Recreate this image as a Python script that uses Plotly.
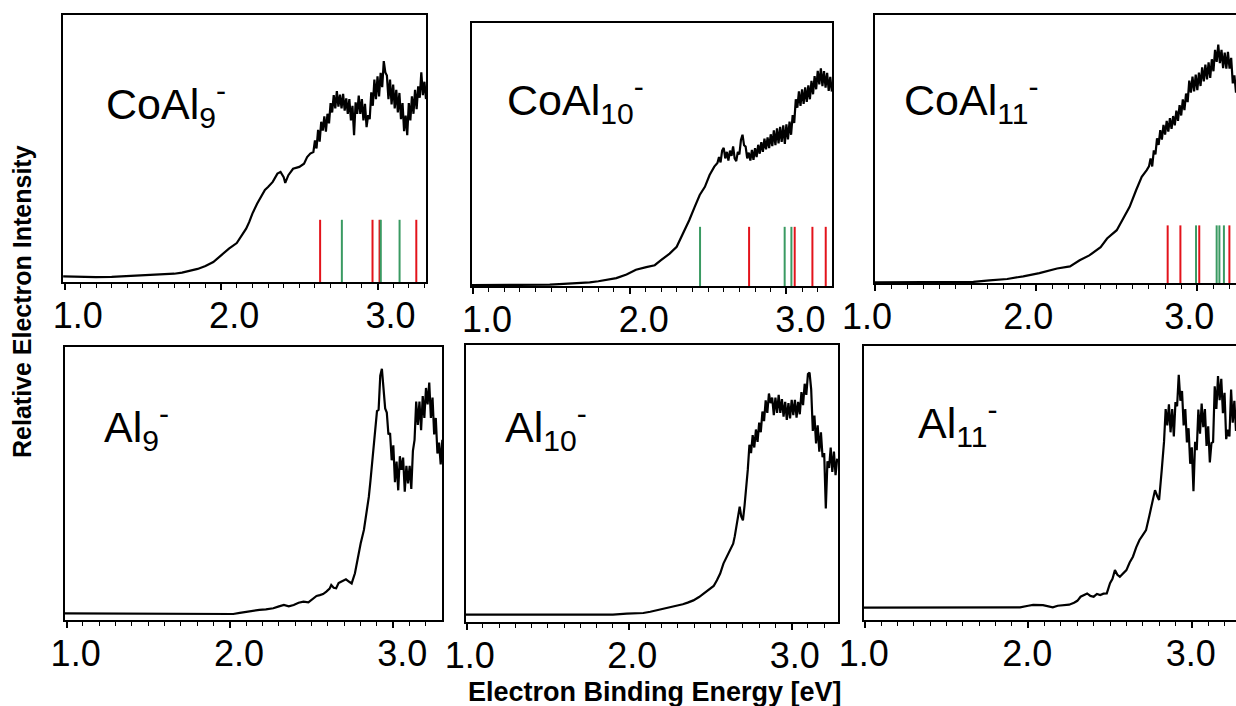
import plotly.graph_objects as go

W, H = 1236, 706
FONT = "Liberation Sans, Arial, Helvetica, sans-serif"

# ---------------- data ----------------
TICK_VALUES = [1.0, 2.0, 3.0]
TICK_LABELS = ["1.0", "2.0", "3.0"]

# CoAl9- spectrum (energy in eV, relative intensity)
coal9_E = [0.99, 1.05, 1.1, 1.2, 1.3, 1.4, 1.5, 1.6, 1.7, 1.75, 1.8, 1.85, 1.9, 1.95, 2.0, 2.05, 2.1,
           2.13, 2.16, 2.18, 2.2, 2.23, 2.26, 2.28, 2.3, 2.33, 2.36, 2.38, 2.4, 2.41, 2.43, 2.46, 2.5,
           2.53, 2.55, 2.57, 2.59,
           2.60, 2.61, 2.62, 2.63, 2.64, 2.65, 2.66, 2.67, 2.68, 2.69,
           2.70, 2.71, 2.72, 2.73, 2.74, 2.75, 2.76, 2.77, 2.78, 2.79,
           2.80, 2.81, 2.82, 2.83, 2.84, 2.85, 2.86, 2.87, 2.88, 2.89,
           2.90, 2.91, 2.92, 2.93, 2.94, 2.95, 2.96, 2.97, 2.98, 2.99,
           3.00, 3.01, 3.02, 3.03, 3.04, 3.05, 3.06, 3.07, 3.08, 3.09,
           3.10, 3.11, 3.12, 3.13, 3.14, 3.15, 3.16, 3.17, 3.18, 3.19,
           3.20, 3.21, 3.22, 3.23, 3.24, 3.25, 3.26, 3.27, 3.28, 3.29,
           3.30, 3.31]
coal9_I = [2.1, 2.0, 1.9, 1.8, 1.9, 2.2, 2.4, 2.6, 3.1, 3.5, 4.1, 4.9, 6.0, 7.5, 10.0, 12.5, 14.6,
           17.5, 20.0, 22.5, 25.6, 29.3, 32.5, 34.5, 35.6, 37.5, 40.6, 41.2, 39.3, 37.1, 40.0, 42.4, 43.1,
           44.3, 46.8, 48.1, 48.7,
           53, 50, 57, 52.6, 60, 56.7, 62, 56.3, 63, 59.4,
           67, 63.5, 70, 65, 71.5, 65.7, 70.2, 65, 70.5, 64.2,
           68.8, 63, 68.5, 60.5, 66, 55, 67.3, 63, 69.8, 63,
           68.5, 60.5, 66.7, 58, 62.5, 61, 71, 66, 75.8, 68.5,
           77, 69.5, 78.3, 73, 82.7, 78.5, 77.3, 68.5, 75.8, 66.5,
           73.9, 65, 72, 63.5, 70.8, 61, 67, 56.5, 62.3, 55,
           67, 60.5, 69.5, 63, 72, 64.7, 73.3, 69, 78.5, 70,
           75, 68.5]
coal9_red = [2.633, 2.968, 3.013, 3.248]
coal9_green = [2.772, 3.021, 3.141]
coal9_stick = 23.3

# CoAl10- spectrum
coal10_E = [0.994, 1.1, 1.2, 1.3, 1.4, 1.49, 1.55, 1.64, 1.7, 1.745, 1.8, 1.85, 1.915, 1.98, 2.04,
            2.106, 2.16, 2.2, 2.255, 2.3, 2.34, 2.38, 2.415, 2.447, 2.48, 2.51, 2.54, 2.56,
            2.57, 2.58, 2.59, 2.60, 2.61, 2.62, 2.63, 2.64, 2.65, 2.66,
            2.67, 2.68, 2.69, 2.70, 2.71, 2.72, 2.73, 2.74, 2.75, 2.76,
            2.77, 2.78, 2.79, 2.80, 2.81, 2.82, 2.83, 2.84, 2.85, 2.86,
            2.87, 2.88, 2.89, 2.90, 2.91, 2.92, 2.93, 2.94, 2.95, 2.96,
            2.97, 2.98, 2.99, 3.00, 3.01, 3.02, 3.03, 3.04, 3.05, 3.06,
            3.07, 3.08, 3.09, 3.10, 3.11, 3.12, 3.13, 3.14, 3.15, 3.16,
            3.17, 3.18, 3.19, 3.20, 3.21, 3.22, 3.23, 3.24, 3.25, 3.26,
            3.27, 3.28, 3.29]
coal10_I = [0.3, 0.3, 0.3, 0.3, 0.4, 0.5, 0.7, 0.9, 1.1, 1.4, 1.8, 2.2, 3.0, 4.4, 6.2,
            7.2, 7.9, 9.8, 12.3, 14.9, 19.9, 25.0, 30.1, 34.6, 37.7, 42.2, 45.4, 46.8,
            49, 47, 51.5, 52.5, 48.5, 51, 47.7, 51.5, 49.5, 53.1,
            48.5, 47.5, 51, 50, 55.5, 57.5, 53.5, 53, 48.5, 50.7,
            47.7, 51.7, 48, 52.4, 49, 53.7, 50.3, 54.7, 51, 56,
            52, 56.5, 52.4, 57.7, 53.2, 59.2, 53.6, 59.9, 54.2, 60.5,
            54.8, 61.1, 54, 61.5, 55.7, 62.5, 57.5, 65, 62, 71,
            67.8, 74, 68.5, 74.8, 69.2, 75.5, 70, 76.3, 71, 78,
            72.9, 79.8, 74.8, 81.8, 76.7, 82.8, 76, 81.7, 75.4, 81,
            74.2, 79.5, 73.9]
coal10_red = [2.762, 3.053, 3.166, 3.251]
coal10_green = [2.449, 2.989, 3.032]
coal10_stick = 22.5

# CoAl11- spectrum
coal11_E = [1.0, 1.1, 1.2, 1.3, 1.4, 1.5, 1.61, 1.71, 1.82, 1.92, 2.02, 2.13, 2.21, 2.27, 2.33, 2.40,
            2.44, 2.50, 2.54, 2.58, 2.62, 2.655, 2.686, 2.70,
            2.71, 2.72, 2.73, 2.74, 2.75, 2.76, 2.77, 2.78, 2.79, 2.80,
            2.81, 2.82, 2.83, 2.84, 2.85, 2.86, 2.87, 2.88, 2.89, 2.90,
            2.91, 2.92, 2.93, 2.94, 2.95, 2.96, 2.97, 2.98, 2.99, 3.00,
            3.01, 3.02, 3.03, 3.04, 3.05, 3.06, 3.07, 3.08, 3.09, 3.10,
            3.11, 3.12, 3.13, 3.14, 3.15, 3.16, 3.17, 3.18, 3.19, 3.20,
            3.21, 3.22, 3.23, 3.24]
coal11_I = [0.2, 0.2, 0.2, 0.2, 0.3, 0.3, 0.4, 1.0, 1.5, 2.5, 3.7, 5.4, 6.2, 8.5, 10.3, 13.4,
            16.6, 19.7, 24.0, 28.4, 34.6, 39.6, 42.1, 43.5,
            46.5, 43.5, 49.5, 48, 54, 51.5, 57, 53.5, 59, 55.4,
            60.5, 56.5, 61.5, 57.5, 62.3, 58.8, 64.3, 60.5, 66.4, 62.5,
            68.5, 64.5, 70.7, 67.5, 75.5, 71, 77, 71.5, 77.8, 72,
            78.5, 73.5, 80.5, 75.2, 81.5, 76, 82.3, 76.5, 83.5, 79,
            87, 82.5, 89, 82, 87, 80.2, 86, 80, 86.2, 80,
            84, 74.5, 77.5, 71]
coal11_red = [2.816, 2.895, 3.012, 3.199]
coal11_green = [2.992, 3.120, 3.137, 3.165]
coal11_stick = 21.5

# Al9- spectrum
al9_E = [0.99, 1.2, 1.4, 1.6, 1.755, 1.857, 1.95, 2.02, 2.06, 2.10, 2.14, 2.18, 2.22, 2.265, 2.30,
         2.33, 2.36, 2.39, 2.42, 2.45, 2.48, 2.51, 2.53, 2.55, 2.57, 2.59, 2.61, 2.62, 2.635, 2.65,
         2.665, 2.68, 2.70, 2.71, 2.73, 2.745, 2.765, 2.78, 2.80, 2.82, 2.83, 2.84, 2.85, 2.86, 2.87,
         2.88, 2.89, 2.90, 2.91, 2.92, 2.93, 2.94, 2.95, 2.96, 2.97,
         2.98, 2.99, 3.00, 3.01, 3.02, 3.03, 3.04, 3.05, 3.06, 3.07,
         3.08, 3.09, 3.10, 3.11, 3.12, 3.13, 3.14, 3.15, 3.16, 3.17,
         3.18, 3.19, 3.20, 3.21, 3.22, 3.23, 3.24, 3.25, 3.26, 3.27,
         3.28, 3.29, 3.30]
al9_I = [2.4, 2.4, 2.4, 2.4, 2.4, 2.4, 2.3, 2.2, 2.6, 3.0, 3.2, 3.7, 3.9, 4.3, 5.0,
         5.5, 5.0, 5.5, 6.3, 6.7, 6.5, 7.9, 8.8, 9.1, 9.5, 10.4, 11.5, 12.8, 11.8, 11.6,
         13.5, 14.0, 14.5, 14.9, 14.0, 13.4, 17.1, 22, 28.0, 33, 36.6, 41, 45.1, 51, 57.3,
         66, 70.5, 76.5, 77, 89.5, 92, 85.5, 77.5, 76, 68,
         68.5, 58.5, 64, 50.5, 58, 47.5, 60, 55, 59.5, 47,
         56.5, 50, 56.5, 48, 62, 66, 80, 71.5, 80, 69.5,
         82, 74, 85, 79, 87, 74, 81.5, 68, 74, 61,
         65, 57, 66]

# Al10- spectrum
al10_E = [0.996, 1.2, 1.4, 1.6, 1.8, 1.90, 1.985, 2.04, 2.087, 2.13, 2.17, 2.21, 2.25, 2.29, 2.33,
          2.36, 2.395, 2.43, 2.456, 2.48, 2.50, 2.52, 2.54, 2.56, 2.58, 2.595, 2.61, 2.625, 2.64,
          2.65, 2.66, 2.67, 2.68, 2.69, 2.70, 2.71, 2.72, 2.73,
          2.74, 2.75, 2.76, 2.77, 2.78, 2.79, 2.80, 2.81, 2.82, 2.83,
          2.84, 2.85, 2.86, 2.87, 2.88, 2.89, 2.90, 2.91, 2.92, 2.93,
          2.94, 2.95, 2.96, 2.97, 2.98, 2.99, 3.00, 3.01, 3.02, 3.03,
          3.04, 3.05, 3.06, 3.07, 3.08, 3.09, 3.10, 3.11, 3.12, 3.13,
          3.14, 3.15, 3.16, 3.17, 3.18, 3.19, 3.20, 3.21, 3.22, 3.23,
          3.24, 3.25, 3.26, 3.27, 3.28]
al10_I = [2.65, 2.65, 2.75, 2.65, 2.7, 2.65, 3.0, 3.1, 3.25, 3.7, 4.2, 4.8, 5.4, 5.9, 6.4,
          7.0, 7.8, 9.0, 10.2, 11.0, 12.0, 13.0, 15.1, 17.5, 21.1, 23, 24.7, 26.5, 28.3,
          31, 34.3, 39, 41.6, 38, 36.7, 42, 47.6, 55,
          64, 61, 67.5, 63, 69.5, 65, 72, 68.5, 76, 72.5,
          80, 75.5, 82.5, 79, 81, 74.7, 81, 75.5, 82, 75.5,
          80.5, 74.1, 79.5, 73, 79, 73.5, 80.2, 74.7, 80.2, 73.8,
          79.5, 75, 83, 78.3, 86, 82, 89.5, 90, 84, 69,
          74.5, 64.5, 71, 61.5, 68.5, 59.5, 61, 41, 58, 55.6,
          63, 54.2, 61.5, 53, 59]

# Al11- spectrum
al11_E = [0.996, 1.2, 1.4, 1.6, 1.8, 1.95, 2.0, 2.03, 2.09, 2.12, 2.15, 2.18, 2.21, 2.25, 2.28,
          2.30, 2.32, 2.34, 2.36, 2.38, 2.40, 2.42, 2.44, 2.46, 2.48, 2.50, 2.515, 2.53, 2.545,
          2.56, 2.58, 2.60, 2.62, 2.64, 2.66, 2.68, 2.70, 2.72, 2.74, 2.755, 2.775, 2.79, 2.80,
          2.816, 2.83,
          2.84, 2.85, 2.86, 2.87, 2.88, 2.89, 2.90, 2.91, 2.92, 2.93,
          2.94, 2.95, 2.96, 2.97, 2.98, 2.99, 3.00, 3.01, 3.02, 3.03,
          3.04, 3.05, 3.06, 3.07, 3.08, 3.09, 3.10, 3.11, 3.12, 3.13,
          3.14, 3.15, 3.16, 3.17, 3.18, 3.19, 3.20, 3.21, 3.22, 3.23,
          3.24, 3.25, 3.26, 3.27]
al11_I = [4.5, 4.5, 4.6, 4.5, 4.5, 4.6, 5.2, 5.5, 5.4, 5.0, 4.6, 5.2, 5.4, 5.6, 6.3,
          7.0, 8.5, 9.0, 9.7, 8.8, 8.5, 9.5, 9.1, 9.6, 9.7, 13.4, 15, 18.2, 16.5,
          15.8, 17, 18.2, 21, 23.1, 26.5, 29.2, 31, 32.8, 38, 42.6, 47.4, 45, 43.8,
          54.7, 65,
          77, 71, 78.7, 68.5, 77, 67, 79.5, 78, 89.5, 80,
          83.6, 71, 77, 64.8, 70, 57, 63, 47, 65, 62,
          76.8, 68, 79, 70.4, 77, 63.5, 70.7, 57.5, 64.6, 65,
          85.3, 77, 89, 80.2, 88, 75.5, 82.9, 66, 69.5, 67,
          84.1, 72, 80, 69]

# ---------------- layout of the six panels (pixel boxes) ----------------
panels = [
    dict(label="CoAl<sub>9</sub><sup>-</sup>", E=coal9_E, I=coal9_I, red=coal9_red, green=coal9_green,
         stick=coal9_stick, box=(63, 426, 15, 282), xr=(0.989, 3.31), shift=13, closed=True, lab=(104, 104)),
    dict(label="CoAl<sub>10</sub><sup>-</sup>", E=coal10_E, I=coal10_I, red=coal10_red, green=coal10_green,
         stick=coal10_stick, box=(472, 832, 23, 286), xr=(0.994, 3.291), shift=14, closed=True, lab=(505, 100)),
    dict(label="CoAl<sub>11</sub><sup>-</sup>", E=coal11_E, I=coal11_I, red=coal11_red, green=coal11_green,
         stick=coal11_stick, box=(875, 1236, 15, 283), xr=(1.0, 3.24), shift=-8, closed=False, lab=(902, 100)),
    dict(label="Al<sub>9</sub><sup>-</sup>", E=al9_E, I=al9_I, red=None, green=None,
         stick=None, box=(65, 442, 347, 620), xr=(0.99, 3.298), shift=9, closed=True, lab=(102, 427)),
    dict(label="Al<sub>10</sub><sup>-</sup>", E=al10_E, I=al10_I, red=None, green=None,
         stick=None, box=(466, 838, 345, 622), xr=(0.996, 3.285), shift=3, closed=True, lab=(503, 427)),
    dict(label="Al<sub>11</sub><sup>-</sup>", E=al11_E, I=al11_I, red=None, green=None,
         stick=None, box=(864, 1236, 346, 620), xr=(0.996, 3.27), shift=-1, closed=False, lab=(916, 423)),
]

RED = "#e3131b"
GREEN = "#3a9a62"

fig = go.Figure()
layout = dict(
    width=W, height=H, margin=dict(l=0, r=0, t=0, b=0, pad=0, autoexpand=False),
    paper_bgcolor="white", plot_bgcolor="white", showlegend=False,
    font=dict(family=FONT, color="black"),
)
annotations = []

for k, p in enumerate(panels, start=1):
    assert len(p["E"]) == len(p["I"]), (k, len(p["E"]), len(p["I"]))
    xa = "x" if k == 1 else f"x{k}"
    ya = "y" if k == 1 else f"y{k}"
    x0, x1, y0, y1 = p["box"]
    layout[f"xaxis{'' if k == 1 else k}"] = dict(
        domain=[x0 / W, x1 / W], anchor=ya, range=list(p["xr"]), automargin=False,
        showline=True, linecolor="black", linewidth=2, mirror=True,
        ticks="outside", ticklen=6, tickwidth=1.5, tickcolor="black",
        tickmode="array", tickvals=TICK_VALUES, ticktext=TICK_LABELS,
        tickfont=dict(family=FONT, size=36, color="black"), ticklabelshift=p["shift"],
        ticklabelstandoff=-5,
        minor=dict(ticks="outside", ticklen=4, tickwidth=1.2, tickcolor="black", tick0=1.0, dtick=0.1),
        showgrid=False, zeroline=False,
    )
    layout[f"yaxis{'' if k == 1 else k}"] = dict(
        domain=[1 - y1 / H, 1 - y0 / H], anchor=xa, range=[0, 100], automargin=False,
        showline=True, linecolor="black", linewidth=2, mirror=p["closed"],
        ticks="", showticklabels=False, showgrid=False, zeroline=False,
    )
    # stick spectra
    for pos, col in ((p["red"], RED), (p["green"], GREEN)):
        if pos:
            xs, ys = [], []
            for e in pos:
                xs += [e, e, None]
                ys += [0, p["stick"], None]
            fig.add_trace(go.Scatter(x=xs, y=ys, mode="lines", xaxis=xa, yaxis=ya,
                                     line=dict(color=col, width=2), hoverinfo="skip"))
    fig.add_trace(go.Scatter(x=p["E"], y=p["I"], mode="lines", xaxis=xa, yaxis=ya,
                             line=dict(color="black", width=2.2)))
    lx, ly = p["lab"]
    annotations.append(dict(text=p["label"], xref="paper", yref="paper", x=lx / W, y=1 - ly / H,
                            xanchor="left", yanchor="middle", showarrow=False,
                            font=dict(family=FONT, size=43, color="black")))

annotations.append(dict(text="<b>Relative Electron Intensity</b>", xref="paper", yref="paper",
                        x=22 / W, y=1 - 302 / H, textangle=-90, showarrow=False,
                        xanchor="center", yanchor="middle",
                        font=dict(family=FONT, size=25, color="black")))
annotations.append(dict(text="<b>Electron Binding Energy [eV]</b>", xref="paper", yref="paper",
                        x=655 / W, y=1 - 692 / H, showarrow=False,
                        xanchor="center", yanchor="middle",
                        font=dict(family=FONT, size=27, color="black")))
layout["annotations"] = annotations
fig.update_layout(**layout)
fig.write_html(
    "out.html",
    config={"displayModeBar": False},
    post_script="document.body.style.margin='0';document.body.style.padding='0';"
                "document.body.style.overflow='hidden';document.documentElement.style.overflow='hidden';",
)
